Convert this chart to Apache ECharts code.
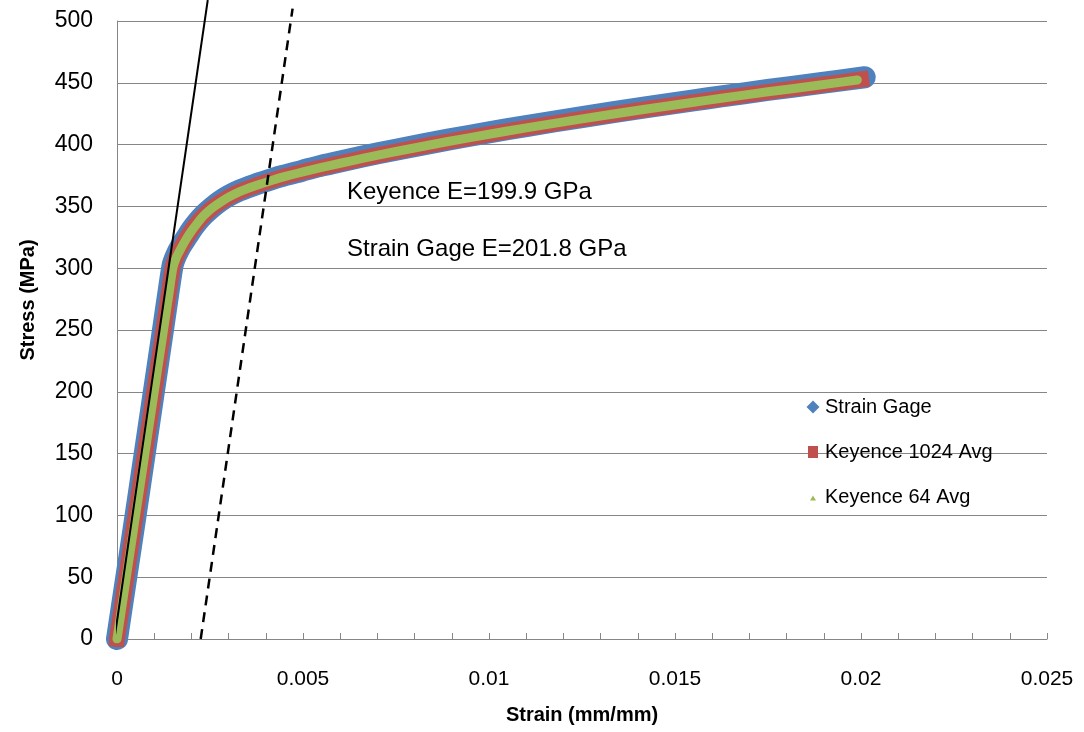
<!DOCTYPE html>
<html>
<head>
<meta charset="utf-8">
<script src="https://cdn.jsdelivr.net/npm/echarts@6/dist/echarts.min.js"></script>
<style>
html,body{margin:0;padding:0;background:#fff;}
#chart{width:1084px;height:732px;}
</style>
</head>
<body>
<div id="chart"></div>
<script>
// ---- data ----
const seriesNames = ["Strain Gage", "Keyence 1024 Avg", "Keyence 64 Avg"];

const gageStrain = [0, 0.00025, 0.0005, 0.00075, 0.001, 0.00125, 0.0014, 0.0015, 0.0016, 0.00172, 0.00185, 0.002, 0.00215, 0.00233, 0.00255, 0.00276, 0.003, 0.0033, 0.0037, 0.00405, 0.0044, 0.005, 0.0055, 0.006, 0.0066, 0.0075, 0.0089, 0.01, 0.011, 0.0125, 0.0142, 0.0155, 0.0162, 0.0175, 0.0188, 0.0201];
const gageStress = [0, 50, 100, 151, 202, 253, 284, 303, 311, 318, 324, 331, 337, 343, 349, 354, 358.5, 363, 367.5, 371, 374.3, 379, 383, 386.4, 390.3, 395.9, 404, 409.9, 415, 422.3, 430.1, 435.8, 438.8, 444.2, 449.3, 454.5];

const k1024Strain = [0, 0.00025, 0.0005, 0.00075, 0.001, 0.00125, 0.0014, 0.0015, 0.0016, 0.00172, 0.00185, 0.002, 0.00215, 0.00233, 0.00255, 0.00276, 0.003, 0.0033, 0.0037, 0.00405, 0.0044, 0.005, 0.0055, 0.006, 0.0066, 0.0075, 0.0089, 0.01, 0.011, 0.0125, 0.0142, 0.0155, 0.0162, 0.0175, 0.0188, 0.02];
const k1024Stress = [0, 50, 100, 150, 200, 250, 281, 301, 309.5, 316.5, 323.5, 330.5, 336.5, 342.5, 348.5, 353, 357.5, 362, 366.5, 370, 373.3, 378, 381.5, 384.9, 388.8, 394.4, 402.5, 408.4, 413.5, 420.8, 428.6, 434.3, 437.3, 442.7, 447.8, 452.7];

const k64Strain = [0, 0.00025, 0.0005, 0.00075, 0.001, 0.00125, 0.0014, 0.0015, 0.0016, 0.00172, 0.00185, 0.002, 0.00215, 0.00233, 0.00255, 0.00276, 0.003, 0.0033, 0.0037, 0.00405, 0.0044, 0.005, 0.0055, 0.006, 0.0066, 0.0075, 0.0089, 0.01, 0.011, 0.0125, 0.0142, 0.0155, 0.0162, 0.0175, 0.0188, 0.0199];
const k64Stress = [0, 50, 100, 150, 200, 250, 280, 300, 309, 316, 323, 330, 336, 342.5, 348.5, 353, 357.5, 362, 366.5, 370, 373.3, 378, 381.5, 384.9, 388.8, 394.4, 402.5, 408.4, 413.5, 420.8, 428.6, 434.3, 437.3, 442.7, 447.8, 452.3];

// elastic modulus fit line and 0.2% offset line
const fitStrain = [-0.00007, 0.00244];
const fitStress = [0, 517];
const offsetStrain = [0.00225, 0.00472];
const offsetStress = [0, 510];

const xTicks = [0, 0.005, 0.01, 0.015, 0.02, 0.025];
const yTicks = [0, 50, 100, 150, 200, 250, 300, 350, 400, 450, 500];

const annotations = ["Keyence E=199.9 GPa", "Strain Gage E=201.8 GPa"];
const axisTitles = ["Strain (mm/mm)", "Stress (MPa)"];

const zip = (xs, ys) => xs.map((x, i) => [x, ys[i]]);

const colors = ["#4F81BD", "#C0504D", "#9BBB59"];
const FONT = "Liberation Sans";

const chart = echarts.init(document.getElementById('chart'));
chart.setOption({
  animation: false,
  backgroundColor: '#fff',
  textStyle: { fontFamily: FONT, color: '#000' },
  grid: { left: 117, right: 37, top: 21, bottom: 93, containLabel: false },
  legend: {
    orient: 'vertical',
    left: 801,
    top: 392,
    itemGap: 25,
    itemWidth: 14,
    itemHeight: 14,
    textStyle: { fontFamily: FONT, fontSize: 20, color: '#000' },
    data: [
      { name: seriesNames[0], icon: 'path://M0,0 M14,14 M7,0.5 L13.5,7 L7,13.5 L0.5,7 Z', itemStyle: { color: colors[0] } },
      { name: seriesNames[1], icon: 'path://M0,0 M14,14 M2,1 L12,1 L12,13 L2,13 Z', itemStyle: { color: colors[1] } },
      { name: seriesNames[2], icon: 'path://M0,0 M14,14 M4,10.5 L7,5.5 L10,10.5 Z', itemStyle: { color: colors[2] } }
    ]
  },
  xAxis: {
    type: 'value',
    min: xTicks[0],
    max: xTicks[xTicks.length - 1],
    interval: 0.005,
    name: axisTitles[0],
    nameLocation: 'middle',
    nameGap: 66,
    nameTextStyle: { fontFamily: FONT, fontSize: 20, fontWeight: 'bold', color: '#000' },
    axisLine: { show: true, lineStyle: { color: '#868686', width: 1 } },
    axisTick: { show: true, inside: true, length: 6, lineStyle: { color: '#868686' } },
    minorTick: { show: true, splitNumber: 5, length: 6, lineStyle: { color: '#868686' } },
    axisLabel: { fontFamily: FONT, fontSize: 21, color: '#000', margin: 30 },
    splitLine: { show: false }
  },
  yAxis: {
    type: 'value',
    min: yTicks[0],
    max: yTicks[yTicks.length - 1],
    interval: 50,
    axisLine: { show: true, lineStyle: { color: '#868686', width: 1 } },
    axisTick: { show: false },
    axisLabel: { fontFamily: FONT, fontSize: 23, color: '#000', margin: 24 },
    splitLine: { show: true, lineStyle: { color: '#868686', width: 1 } }
  },
  graphic: [
    { type: 'text', left: 347, top: 180, style: { text: annotations[0], font: '24px "Liberation Sans"', fill: '#000' } },
    { type: 'text', left: 347, top: 237, style: { text: annotations[1], font: '24px "Liberation Sans"', fill: '#000' } },
    { type: 'text', x: 28, y: 300, rotation: Math.PI / 2,
      style: { text: axisTitles[1], font: 'bold 20px "Liberation Sans"', fill: '#000', textAlign: 'center', textVerticalAlign: 'middle' } }
  ],
  series: [
    {
      name: seriesNames[0], type: 'line', data: zip(gageStrain, gageStress),
      symbol: 'none', smooth: 0.2, color: colors[0],
      lineStyle: { width: 22, color: colors[0], cap: 'round', join: 'round' }, z: 2
    },
    {
      name: seriesNames[1], type: 'line', data: zip(k1024Strain, k1024Stress),
      symbol: 'none', smooth: 0.2, color: colors[1],
      lineStyle: { width: 16, color: colors[1], cap: 'square', join: 'round' }, z: 3
    },
    {
      name: seriesNames[2], type: 'line', data: zip(k64Strain, k64Stress),
      symbol: 'none', smooth: 0.2, color: colors[2],
      lineStyle: { width: 9, color: colors[2], cap: 'round', join: 'round' }, z: 4
    },
    {
      name: 'fit', type: 'line', data: zip(fitStrain, fitStress),
      symbol: 'none', clip: false, silent: true,
      lineStyle: { width: 2, color: '#000' }, z: 5
    },
    {
      name: 'offset', type: 'line', data: zip(offsetStrain, offsetStress),
      symbol: 'none', clip: false, silent: true,
      lineStyle: { width: 2.5, color: '#000', type: [10, 7] }, z: 5
    }
  ]
});
</script>
</body>
</html>
